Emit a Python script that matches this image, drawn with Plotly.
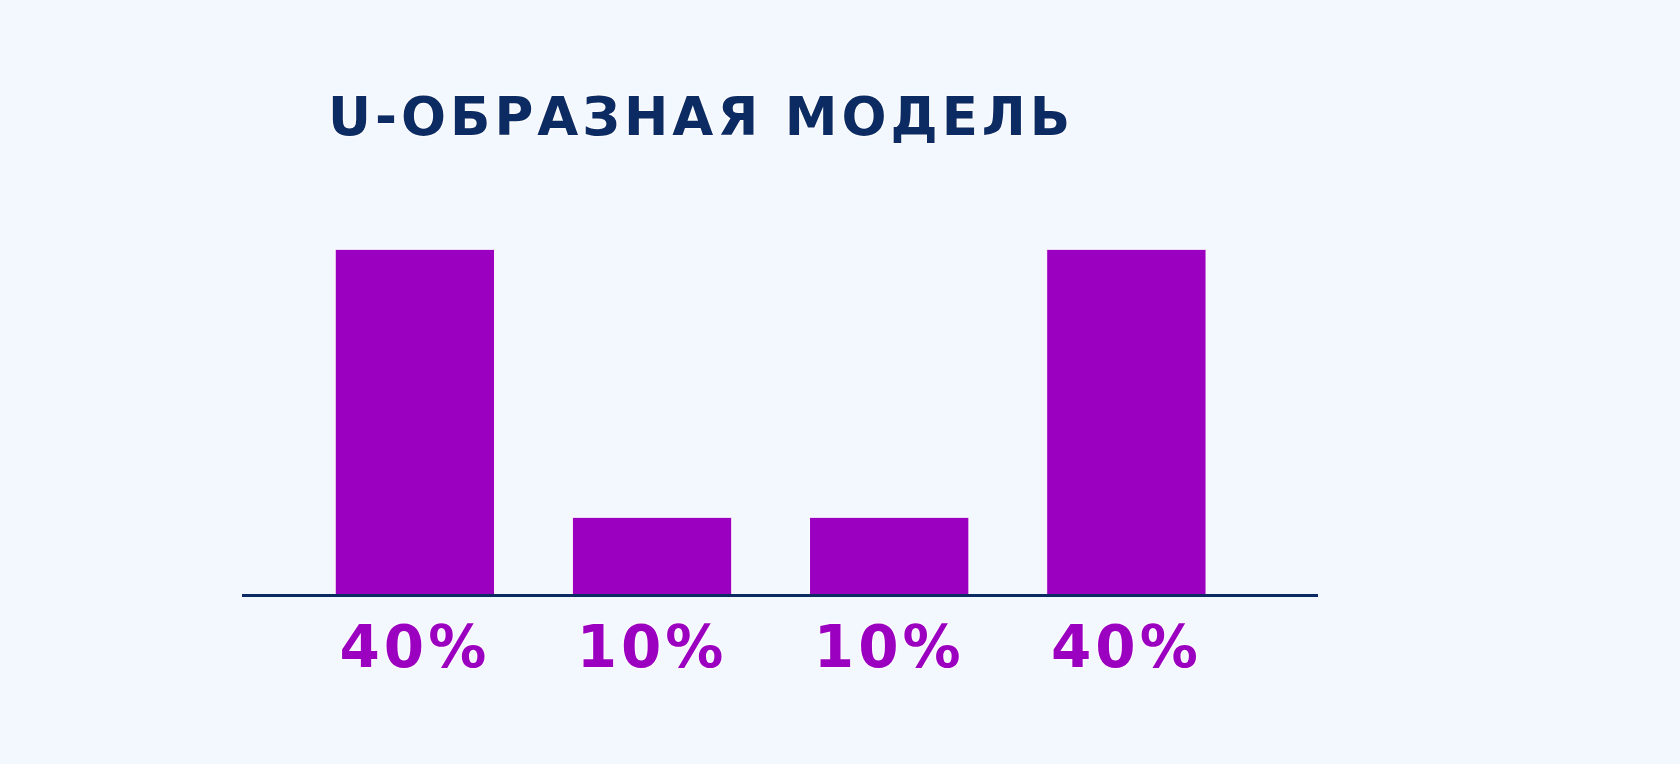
import plotly.graph_objects as go

stages = ["first_touch", "middle_1", "middle_2", "lead"]
shares = [40, 10, 10, 40]
tick_labels = ["40%", "10%", "10%", "40%"]
title = "U-ОБРАЗНАЯ МОДЕЛЬ"

bg = "#f3f7fe"
purple = "#9b00c0"
navy = "#0b2b62"
glow = "0px 0px 3px white, 0px 0px 3px white, 0px 0px 2px white"

# plot area in pixels: x 242..1318, y 200..594
left, right, top, bottom = 242, 1318, 200, 594
W, H = 1680, 764


def spaced(s, px):
    return '<span style="letter-spacing:%dpx">%s</span>' % (px, s)


fig = go.Figure(go.Bar(
    x=list(range(len(stages))),
    y=shares,
    width=0.672,
    marker_color=purple,
    marker_line_color="white",
    marker_line_width=1,
    hovertext=stages,
))

fig.update_xaxes(
    range=[-0.729, 3.808],
    tickvals=list(range(len(stages))),
    ticktext=[spaced(t, 4) for t in tick_labels],
    tickfont=dict(family="DejaVu Sans", size=58, color=purple, weight="bold", shadow=glow),
    ticks="",
    ticklabelstandoff=0,
    showline=True, linecolor=navy, linewidth=3,
    showgrid=False, zeroline=False,
)
fig.update_yaxes(range=[1.414, 45.52], visible=False, showgrid=False)

fig.add_annotation(
    text=spaced(title, 4),
    x=(701 - left) / (right - left), xref="paper",
    y=(bottom - 116) / (bottom - top), yref="paper",
    xanchor="center", yanchor="middle",
    showarrow=False,
    font=dict(family="DejaVu Sans", size=53, color=navy, weight="bold", shadow=glow),
)

fig.update_layout(
    width=W, height=H,
    margin=dict(l=left, r=W - right, t=top, b=H - bottom, pad=0),
    paper_bgcolor=bg, plot_bgcolor=bg,
    showlegend=False,
)

fig.write_html("out.html", config={"displayModeBar": False},
               post_script="document.body.style.margin='0';")
